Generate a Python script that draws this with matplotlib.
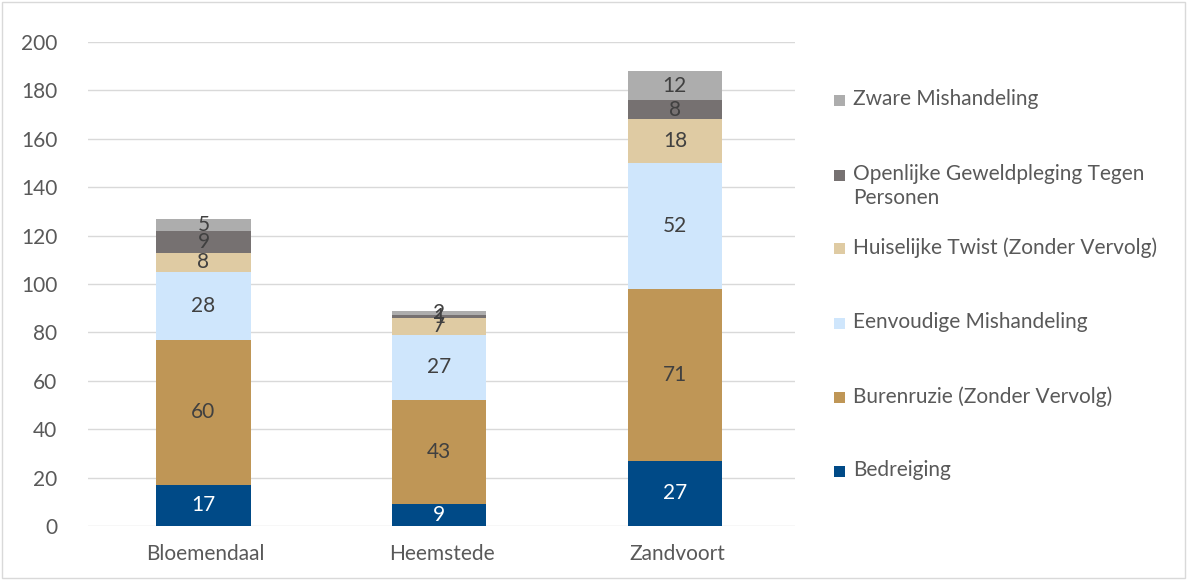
import matplotlib.pyplot as plt
from matplotlib.patches import Rectangle
import numpy as np

plt.rcParams['font.family'] = ['Lato', 'DejaVu Sans']
plt.rcParams['font.size'] = 15

gemeenten = ['Bloemendaal', 'Heemstede', 'Zandvoort']
series = ['Bedreiging', 'Burenruzie (Zonder Vervolg)', 'Eenvoudige Mishandeling',
          'Huiselijke Twist (Zonder Vervolg)', 'Openlijke Geweldpleging Tegen\nPersonen',
          'Zware Mishandeling']
bedreiging = [17, 9, 27]
burenruzie = [60, 43, 71]
eenvoudig = [28, 27, 52]
huiselijk = [8, 7, 18]
openlijk = [9, 1, 8]
zwaar = [5, 2, 12]
values = [bedreiging, burenruzie, eenvoudig, huiselijk, openlijk, zwaar]
colors = ['#004a87', '#bf9656', '#cfe6fc', '#dfcba3', '#767171', '#adadad']
label_colors = ['white', '#404040', '#404040', '#404040', '#404040', '#404040']

fig = plt.figure(figsize=(11.87, 5.8), dpi=100)
ax = fig.add_axes([0.0741, 0.0931, 0.5957, 0.8345])

x = np.arange(len(gemeenten))
bottom = np.zeros(len(gemeenten))
for vals, col, lc in zip(values, colors, label_colors):
    v = np.array(vals, dtype=float)
    ax.bar(x - 0.01, v, 0.4, bottom=bottom, color=col, zorder=2)
    for xi, b, h in zip(x, bottom, v):
        ax.text(xi - 0.01, b + h / 2, str(int(h)), ha='center', va='center',
                color=lc, fontsize=15, zorder=3)
    bottom += v

ax.set_xlim(-0.5, 2.5)
ax.set_ylim(0, 200)
ax.set_yticks(range(0, 201, 20))
ax.set_xticks(x)
ax.set_xticklabels(gemeenten)
ax.grid(axis='y', color='#d9d9d9', linewidth=1, zorder=0)
for s in ax.spines.values():
    s.set_visible(False)
ax.tick_params(axis='both', length=0, colors='#595959', labelsize=15)
ax.tick_params(axis='y', pad=22)
ax.tick_params(axis='x', pad=13)

# legend (reverse order), drawn by hand
leg_y = [100, 175, 248, 323, 397, 471]
for i, idx in enumerate(range(len(series) - 1, -1, -1)):
    yp = 1 - leg_y[i] / 580
    fig.patches.append(Rectangle((834 / 1187, yp - 5.5 / 580), 11 / 1187, 11 / 580,
                                 transform=fig.transFigure, facecolor=colors[idx],
                                 edgecolor='none'))
    fig.text(853 / 1187, yp + 11 / 580, series[idx], ha='left', va='top',
             color='#595959', fontsize=15, linespacing=1.25)

fig.patches.append(Rectangle((0.002, 0.003), 0.996, 0.994, transform=fig.transFigure,
                             facecolor='none', edgecolor='#d9d9d9', linewidth=1))

fig.savefig('out.png', dpi=100)
